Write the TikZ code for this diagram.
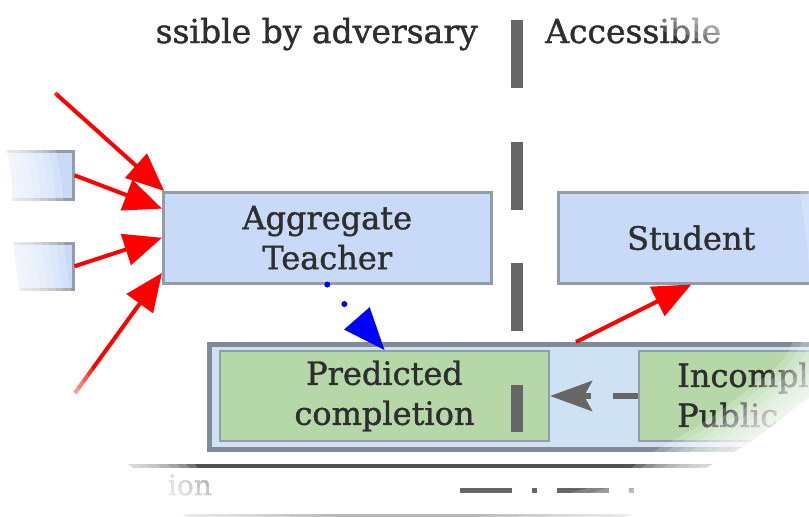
\documentclass[tikz,border=0pt]{standalone}
\usepackage{fontspec}
\setmainfont{DejaVu Serif}[FakeBold=1.2]
\usetikzlibrary{arrows.meta,calc}

\definecolor{boxblue}{HTML}{C9DAF8}
\definecolor{contblue}{HTML}{CFE2F3}
\definecolor{boxgreen}{HTML}{B6D7A8}
\definecolor{boxline}{HTML}{949CA6}
\definecolor{contline}{HTML}{7F8B97}
\definecolor{txt}{HTML}{2E2E2E}
\definecolor{divgray}{HTML}{666666}
\definecolor{flowred}{HTML}{FF0000}
\definecolor{flowblue}{HTML}{0000FF}

\tikzset{
  boxfont/.style={font=\fontsize{32}{40}\selectfont, text=txt},
  bluebox/.style={draw=boxline, fill=boxblue, line width=2.5pt, inner sep=0pt,
                  align=center, anchor=north west, boxfont},
  greenbox/.style={draw=boxline, fill=boxgreen, line width=2pt, inner sep=0pt,
                   align=center, anchor=north west, boxfont},
  container/.style={draw=contline, fill=contblue, line width=5pt, inner sep=0pt,
                    anchor=north west},
  redarrow/.style={draw=flowred, line width=4pt, -{Triangle[length=38pt,width=32pt]}},
  bluearrow/.style={draw=flowblue, line width=6pt, line cap=round,
                    dash pattern=on 0pt off 26pt,
                    -{Triangle[length=42pt,width=34pt,line width=0pt]}},
  grayarrow/.style={draw=divgray, line width=6pt, dash pattern=on 25pt off 22pt,
                    -{Stealth[length=42pt,width=30pt,inset=8pt]}},
  divider/.style={draw=divgray, line width=12pt, dash pattern=on 68pt off 53.5pt},
  toplabel/.style={font=\fontsize{33}{40}\selectfont, text=txt, inner sep=0pt},
}

% outline of the visible area (relative to its centre), reused by every fade layer
\newcommand{\fadeoutline}{%
  (-310,-245) (0,-310) (285,-232) (372,-150) (410,-30) (400,80)
  (338,146) (255,200) (170,245) (0,270) (-185,250) (-258,200)
  (-340,130) (-372,30) (-380,-70) (-385,-180)}

\begin{document}
\begin{tikzpicture}[x=1pt, y=-1pt]
  \useasboundingbox (0,0) rectangle (809,517);
  \fill[white] (0,0) rectangle (809,517);

  % region headings
  \node[toplabel, anchor=base east] (hleft) at (478,43) {ssible by adversary};
  \node[toplabel, anchor=base west] (hright) at (545,43) {Accessible};

  % teacher boxes on the left edge
  \node[bluebox, minimum width=112pt, minimum height=48pt] (t1) at (-40,150) {};
  \node[bluebox, minimum width=112pt, minimum height=46pt] (t2) at (-40,242) {};
  \coordinate (t0) at (55,93);
  \coordinate (t3) at (75,393);

  % aggregate and student
  \node[bluebox, minimum width=328pt, minimum height=91pt] (agg) at (162,191)
       {Aggregate\\Teacher};
  \node[bluebox, minimum width=266pt, minimum height=91pt] (stu) at (557,191)
       {Student};

  % public data container
  \node[container, minimum width=713pt, minimum height=105pt] (cont) at (207,342) {};
  \node[greenbox, minimum width=329pt, minimum height=90pt] (pred) at (219,350)
       {Predicted\\completion};
  \node[greenbox, minimum width=330pt, minimum height=90pt] (inc) at (638,350) {};
  \node[boxfont, anchor=west, align=left, inner sep=0pt] (inctext) at (677,395)
       {Incomplete\\Public};

  % flows
  \draw[redarrow] (t0) -- (agg.164);
  \draw[redarrow] (t1.east) -- (agg.170);
  \draw[redarrow] (t2.east) -- (agg.west);
  \draw[redarrow] (t3) -- (agg.192);
  \draw[bluearrow] (agg.south) -- (pred.north);
  \draw[grayarrow] (inc.west) -- (pred.east);
  \draw[redarrow] ($(cont.north)+(10,0)$) -- (stu.south);

  % boundary between the two regions
  \coordinate (divtop) at (517,20);
  \coordinate (divbot) at (517,432);
  \draw[divider] (divtop) -- (divbot);

  % rules and legend below
  \draw[draw=black!68, line width=3.5pt] (100,466) -- (809,466);
  \draw[draw=black!35, line width=3pt] (150,515) -- (809,515);
  \draw[draw=divgray, line width=5pt, dash pattern=on 52pt off 20pt on 5pt off 20pt]
       (460,490) -- (645,490);
  \node[font=\fontsize{28}{32}\selectfont, text=black!35, anchor=base east, inner sep=0pt]
       (legtext) at (212,495) {ion};

  % soft white vignette round the edges
  \foreach \s in {0.94,0.96,...,1.07}{
    \fill[white, opacity=0.2, even odd rule, shift={(420,260)}, scale=\s]
      (-2000,-2000) rectangle (2000,2000)
      plot[smooth cycle, tension=0.8] coordinates {\fadeoutline};
  }
  \fill[white, even odd rule, shift={(420,260)}, scale=1.075]
    (-2000,-2000) rectangle (2000,2000)
    plot[smooth cycle, tension=0.8] coordinates {\fadeoutline};
\end{tikzpicture}
\end{document}
